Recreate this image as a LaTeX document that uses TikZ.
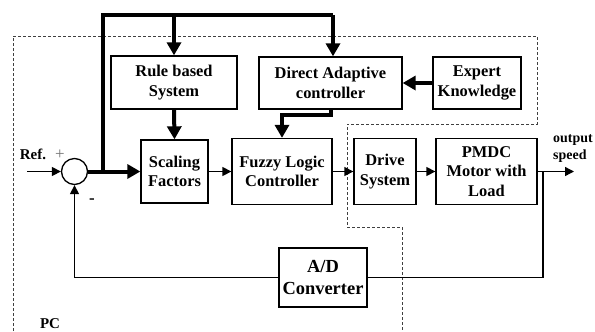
\documentclass[tikz,border=0pt]{standalone}
\usepackage{fontspec}
\setmainfont{Liberation Serif}
\usetikzlibrary{arrows.meta}
\begin{document}
\begin{tikzpicture}[x=1bp,y=-1bp,
  blk/.style={draw,line width=1.3bp,align=center,inner sep=0pt,
    font=\fontsize{16.5}{19.5}\selectfont\bfseries},
  thin/.style={line width=1.3bp,-{Triangle[length=9bp,width=9bp]}},
  thick/.style={line width=4bp,-{Triangle[length=13bp,width=14bp]}},
  thickline/.style={line width=4bp},
  pcline/.style={draw=black!75,line width=0.8bp,dash pattern=on 3bp off 2bp}]
\useasboundingbox (0,0) rectangle (595,331);

% PC boundary
\draw[pcline] (13,331) -- (13,36) -- (537,36) -- (537,124) -- (347,124)
  -- (347,227) -- (402,227) -- (402,331);
\node[font=\fontsize{15}{17}\selectfont\bfseries] (pc) at (50,324) {PC};

% blocks
\node[blk,minimum width=126bp,minimum height=53bp] (rule) at (174,82.5) {Rule based\\System};
\node[blk,minimum width=143bp,minimum height=52bp] (dac) at (330.5,83) {Direct Adaptive\\controller};
\node[blk,minimum width=88bp,minimum height=52bp] (expert) at (477,83) {Expert\\Knowledge};
\node[blk,minimum width=67bp,minimum height=63bp] (scale) at (174.5,171.5) {Scaling\\Factors};
\node[blk,minimum width=100bp,minimum height=66bp] (fuzzy) at (282,171.5) {Fuzzy Logic\\Controller};
\node[blk,minimum width=62bp,minimum height=66bp] (drive) at (385,171.5) {Drive\\System};
\node[blk,minimum width=101bp,minimum height=66bp] (pmdc) at (486.5,171.5) {PMDC\\Motor with\\Load};
\node[blk,minimum width=88bp,minimum height=59bp,
  font=\fontsize{18.5}{22}\selectfont\bfseries] (ad) at (323,277.5) {A/D\\Converter};
\node[draw,circle,line width=1.3bp,minimum size=26bp,inner sep=0pt] (sum) at (74.5,171.5) {};

% labels
\node[font=\fontsize{15}{17}\selectfont\bfseries] (ref) at (33,154) {Ref.};
\node[text=black!55,font=\fontsize{17}{17}\selectfont] (plus) at (60,155) {+};
\node[font=\fontsize{17}{17}\selectfont\bfseries] (minus) at (92,201) {-};
\node[align=left,font=\fontsize{14}{17}\selectfont\bfseries] (outlbl) at (573,149) {output\\speed};

% connector points
\coordinate (in) at (27,171.5);
\coordinate (j) at (103,171.5);
\coordinate (tl) at (103,15);
\coordinate (tr) at (333,15);
\coordinate (tb) at (174,15);
\coordinate (out) at (574,171.5);
\coordinate (fb) at (543,171.5);
\coordinate (da1) at (331,115);
\coordinate (da2) at (282,115);

% input and main forward path
\draw[thin] (in) -- (sum.west);
\draw[thick] (sum.east) -- (scale.west);
\draw[thin] (scale.east) -- (fuzzy.west);
\draw[thin] (fuzzy.east) -- (drive.west);
\draw[thin] (drive.east) -- (pmdc.west);
\draw[thin] (pmdc.east) -- (out);

% supervisory paths
\draw[thickline,line join=miter] (j) -- (tl) -- (tr);
\draw[thick] (tr) -- (tr |- dac.north);
\draw[thick] (tb) -- (rule.north);
\draw[thick] (rule.south) -- (scale.north);
\draw[thick] (expert.west) -- (dac.east);
\draw[thick,line join=miter] (dac.south -| da1) -- (da1) -- (da2) -- (fuzzy.north);

% feedback
\draw[line width=1.3bp] (fb) |- (ad.east);
\draw[thin] (ad.west) -| (sum.south);
\end{tikzpicture}
\end{document}
